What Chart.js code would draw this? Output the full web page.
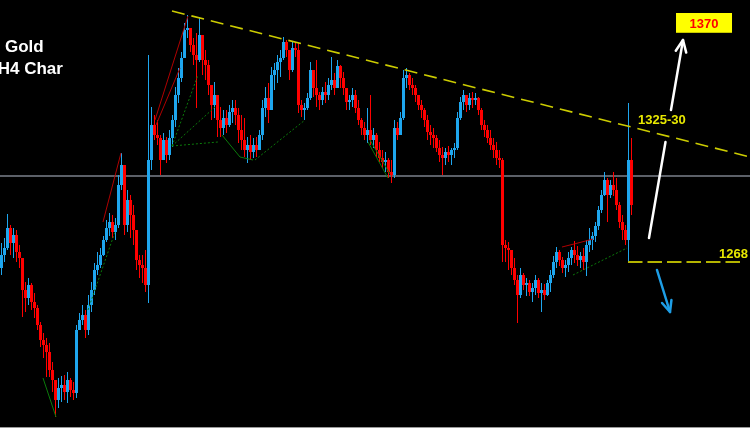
<!DOCTYPE html>
<html><head><meta charset="utf-8">
<script src="https://cdn.jsdelivr.net/npm/chart.js@4.4.1/dist/chart.umd.min.js"></script>
<style>
html,body{margin:0;padding:0;background:#fff;}
#wrap{width:750px;height:427px;background:#000;border-bottom:1px solid #9a9a9a;}
canvas{display:block;}
</style></head><body>
<div id="wrap"><canvas id="c" width="750" height="427"></canvas></div>
<script>
// ---- H4 gold candles (price, USD) ----
const firstOpen = 1265.6;
const highs = [
1275.6,1277.6,1287.2,1282.8,1281.6,1280.8,1274.8,1269.6,1260.0,1261.6,
1259.6,1255.6,1250.8,1244.0,1239.6,1237.6,1235.6,1228.0,1220.8,1221.6,
1222.4,1222.8,1224.0,1221.6,1220.0,1242.8,1247.6,1250.8,1248.8,1254.8,
1260.0,1267.6,1272.0,1273.6,1278.4,1284.8,1287.6,1286.8,1285.6,1302.8,
1311.6,1294.8,1296.8,1294.8,1290.8,1276.8,1270.8,1270.8,1272.8,1350.8,
1330.0,1326.8,1324.8,1318.8,1319.6,1318.0,1320.8,1326.8,1338.0,1345.6,
1352.0,1363.6,1366.8,1361.6,1357.6,1359.6,1366.0,1358.8,1352.8,1348.8,
1338.8,1340.0,1334.8,1330.0,1328.8,1328.8,1330.8,1332.8,1332.8,1329.6,
1326.8,1325.6,1318.0,1318.8,1317.6,1318.0,1320.8,1332.8,1338.0,1339.6,
1346.0,1347.6,1350.8,1352.8,1358.0,1356.8,1350.8,1356.0,1356.0,1355.6,
1332.8,1331.6,1335.6,1348.0,1342.8,1348.8,1336.0,1338.0,1340.0,1341.6,
1350.0,1343.6,1348.8,1346.8,1344.0,1337.6,1334.8,1337.6,1336.8,1332.8,
1325.6,1324.0,1329.6,1334.8,1321.6,1319.6,1316.0,1312.8,1312.0,1309.6,
1308.8,1324.8,1324.0,1328.0,1344.8,1345.6,1343.6,1341.6,1338.8,1334.8,
1332.8,1329.6,1326.8,1322.8,1321.6,1318.8,1316.8,1314.0,1313.6,1314.4,
1313.6,1315.6,1328.0,1334.0,1336.8,1334.8,1335.6,1336.0,1335.6,1334.0,
1329.6,1324.8,1322.8,1320.8,1317.6,1316.0,1312.8,1309.6,1276.8,1276.0,
1272.8,1269.6,1262.8,1265.6,1263.6,1261.6,1260.8,1259.6,1262.8,1261.6,
1259.6,1259.2,1260.8,1264.8,1270.4,1274.0,1272.8,1270.0,1268.8,1272.0,
1274.0,1276.4,1274.4,1272.0,1273.6,1276.8,1281.6,1280.0,1284.0,1290.4,
1296.8,1304.0,1301.6,1300.8,1304.0,1301.6,1292.0,1286.8,1282.8,1331.6,
1317.6];
const lows = [
1262.8,1268.0,1272.8,1270.8,1269.6,1268.0,1265.6,1246.0,1248.0,1250.8,
1248.8,1245.6,1240.8,1234.0,1229.6,1222.0,1222.0,1216.0,1206.0,1209.6,
1212.0,1212.8,1211.6,1214.0,1212.8,1213.6,1240.8,1242.8,1237.6,1238.8,
1248.0,1254.8,1262.8,1265.6,1270.4,1276.0,1278.4,1277.6,1276.8,1281.6,
1296.8,1278.8,1280.0,1277.6,1274.8,1264.8,1261.6,1259.6,1256.0,1251.6,
1304.8,1316.8,1314.8,1302.8,1308.8,1307.6,1308.8,1314.0,1322.0,1331.6,
1340.0,1352.0,1357.6,1352.0,1346.8,1329.6,1348.0,1342.8,1340.8,1334.8,
1324.8,1325.6,1318.0,1318.0,1318.8,1319.6,1322.0,1323.6,1322.8,1315.6,
1312.8,1310.0,1307.6,1308.8,1309.6,1310.0,1312.8,1316.8,1326.0,1323.6,
1328.8,1336.8,1339.6,1342.0,1348.8,1350.0,1340.8,1344.0,1350.0,1327.6,
1326.0,1324.8,1328.8,1332.8,1334.0,1330.0,1328.8,1330.8,1331.6,1332.8,
1336.8,1334.8,1338.8,1337.6,1334.8,1328.8,1328.8,1330.0,1327.6,1322.8,
1318.8,1316.8,1315.6,1314.8,1313.6,1310.0,1308.0,1305.6,1304.0,1301.6,
1299.6,1301.6,1316.8,1320.0,1324.8,1337.6,1336.8,1334.8,1332.0,1328.8,
1325.6,1322.0,1316.8,1314.8,1313.6,1312.0,1308.0,1302.8,1306.8,1308.0,
1306.8,1309.6,1312.8,1324.8,1328.8,1328.0,1328.8,1329.6,1330.8,1326.8,
1320.8,1318.0,1315.6,1312.8,1309.6,1306.8,1305.6,1268.0,1268.0,1264.8,
1262.8,1258.8,1243.6,1253.6,1256.8,1254.4,1254.4,1252.0,1254.8,1253.6,
1248.0,1252.8,1254.4,1256.0,1261.6,1265.6,1266.4,1263.6,1262.0,1264.0,
1266.8,1267.6,1266.4,1265.6,1264.8,1262.4,1272.0,1272.8,1276.0,1280.8,
1287.6,1294.4,1284.0,1293.6,1294.4,1288.8,1281.6,1276.8,1274.8,1268.0,
1286.8];
const closes = [
1270.8,1273.6,1281.6,1275.6,1278.8,1272.0,1269.6,1256.8,1253.6,1258.8,
1252.0,1249.6,1242.8,1236.8,1234.8,1232.0,1224.8,1220.8,1212.8,1217.6,
1218.8,1216.0,1220.8,1216.8,1215.6,1240.8,1244.8,1246.8,1240.8,1250.8,
1256.8,1264.8,1266.8,1270.8,1276.8,1281.6,1284.0,1280.0,1282.8,1298.8,
1306.8,1282.8,1292.8,1286.8,1280.8,1268.8,1266.8,1265.6,1258.8,1308.8,
1322.8,1318.8,1317.6,1308.8,1316.8,1310.8,1317.6,1324.8,1334.8,1341.6,
1349.6,1360.8,1361.6,1354.8,1350.8,1348.8,1358.8,1348.8,1346.8,1338.8,
1330.8,1334.8,1324.8,1321.6,1325.6,1322.8,1328.0,1329.6,1326.8,1320.8,
1316.8,1312.8,1314.8,1312.0,1314.8,1312.8,1318.8,1329.6,1333.6,1328.8,
1342.8,1344.8,1348.0,1349.6,1356.0,1352.8,1344.8,1353.6,1352.8,1330.8,
1328.8,1329.6,1333.6,1344.8,1337.6,1334.8,1332.8,1336.0,1334.8,1338.8,
1340.8,1337.6,1346.4,1341.6,1337.6,1332.0,1332.8,1334.8,1329.6,1324.8,
1321.6,1318.8,1320.8,1316.8,1318.8,1312.8,1309.6,1308.0,1308.8,1304.0,
1302.8,1321.6,1318.8,1325.6,1341.6,1342.8,1338.8,1337.6,1334.8,1330.8,
1328.8,1324.8,1320.0,1318.8,1317.6,1313.6,1310.8,1309.6,1312.0,1310.8,
1312.8,1313.6,1325.6,1332.0,1334.8,1330.8,1333.6,1332.8,1333.6,1328.8,
1322.8,1320.8,1317.6,1314.8,1312.8,1309.6,1308.8,1274.8,1273.6,1272.8,
1265.6,1260.8,1254.8,1262.8,1258.8,1259.6,1256.0,1257.6,1260.8,1255.6,
1256.8,1254.8,1259.6,1262.8,1268.0,1272.0,1268.8,1265.6,1266.8,1269.6,
1272.8,1270.8,1268.8,1270.4,1268.0,1274.8,1276.8,1278.4,1282.4,1288.8,
1294.8,1300.8,1294.8,1298.8,1296.8,1290.8,1284.0,1280.8,1276.8,1308.8,
1290.8];

// ---- drawn levels / annotations (bar index, price) ----
const hLinePrice = 1302.4;
const trendLine = [[56.83, 1368.4], [249.5, 1310.0]];
const supportLine = [[208.83, 1268], [246.17, 1268]];
const redLines = [
  [[33.83,1284.0],[39.83,1311.6]],
  [[51.17,1324.8],[62.17,1366.4]],
  [[51.5,1322.8],[59.5,1345.6]],
  [[186.83,1274.0],[192.17,1275.6],[197.17,1277.2]]
];
const greenDotted = [
  [[28.83,1248.8],[37.83,1280.0]],
  [[56.83,1314.4],[65.5,1342.8]],
  [[56.83,1314.4],[71.17,1330.0]],
  [[56.83,1314.4],[72.17,1316.0]],
  [[84.5,1308.8],[101.17,1324.8]],
  [[190.5,1262.8],[208.5,1273.6]]
];
const greenSolid = [
  [[73.5,1318.8],[79.5,1310.0],[83.83,1308.8]],
  [[122.17,1316.0],[128.83,1301.6]],
  [[122.83,1316.8],[129.5,1303.2]],
  [[13.83,1221.6],[18.17,1206.0]]
];
const upArrow = [[215.83, 1277.6], [227.17, 1356.8]];
const upArrowGap = [1316.0, 1328.8];
const downArrow = [[218.5, 1264.8], [222.83, 1248.0]];
const labels = [
  {text:'1268', x:248.83, y:1271.2, align:'right'},
  {text:'1325-30', x:212.17, y:1324.8, align:'left'}
];
const targetLabel = {text:'1370', x:234.17, y:1363.6};
const titleLines = ['Gold', 'H4 Char'];

// ---- build datasets ----
const opens = closes.map((c, i) => i === 0 ? firstOpen : closes[i-1]);
const UP = '#1ea6ee', DN = '#ff0000';
const cols = closes.map((c, i) => c >= opens[i] ? UP : DN);
const idx = closes.map((c, i) => i);
const pts = arr => arr.map(p => ({x:p[0], y:p[1]}));
const lineDs = (data, color, width, dash, order) => ({
  type:'line', data: pts(data), borderColor: color, borderWidth: width,
  borderDash: dash || [], pointRadius: 0, fill:false, tension:0, order: order
});

const datasets = [
  {type:'bar', grouped:false, barThickness:1, inflateAmount:0, borderWidth:0,
   data: idx.map(i => ({x:i, y:[lows[i], highs[i]]})), backgroundColor: cols, order: 20},
  {type:'bar', grouped:false, barThickness:3, inflateAmount:0, borderWidth:0,
   data: idx.map(i => ({x:i, y:[opens[i], closes[i]]})), backgroundColor: cols, order: 19},
  lineDs([[-0.5, hLinePrice],[249.5, hLinePrice]], '#5c6068', 2, null, 25),
  lineDs(trendLine, '#cccc00', 1.6, [13,7], 5),
  lineDs(supportLine, '#b4b400', 2, [14.5,5], 5)
];
redLines.forEach(l => datasets.push(lineDs(l, '#b00000', 1, null, 10)));
greenDotted.forEach(l => datasets.push(lineDs(l, '#0b7a0b', 1, [2,2], 10)));
greenSolid.forEach(l => datasets.push(lineDs(l, '#0b7a0b', 1, null, 10)));

function head(ctx, a, b, len, ang) {
  const t = Math.atan2(b[1]-a[1], b[0]-a[0]);
  ctx.beginPath();
  ctx.moveTo(b[0] - len*Math.cos(t-ang), b[1] - len*Math.sin(t-ang));
  ctx.lineTo(b[0], b[1]);
  ctx.lineTo(b[0] - len*Math.cos(t+ang), b[1] - len*Math.sin(t+ang));
  ctx.stroke();
}

const annot = {
  id:'annot',
  afterDatasetsDraw(chart) {
    const {ctx} = chart; const xs = chart.scales.x, ys = chart.scales.y;
    const P = p => [xs.getPixelForValue(p[0]), ys.getPixelForValue(p[1])];
    ctx.save();
    ctx.lineCap = 'round'; ctx.lineJoin = 'round';
    const a0 = P(upArrow[0]), a1 = P(upArrow[1]);
    const xAt = py => a0[0] + (a1[0]-a0[0])*(py-a0[1])/(a1[1]-a0[1]);
    const g0 = ys.getPixelForValue(upArrowGap[0]), g1 = ys.getPixelForValue(upArrowGap[1]);
    ctx.strokeStyle = '#ffffff'; ctx.lineWidth = 2.5;
    ctx.beginPath(); ctx.moveTo(a0[0], a0[1]); ctx.lineTo(xAt(g0), g0);
    ctx.moveTo(xAt(g1), g1); ctx.lineTo(a1[0], a1[1]); ctx.stroke();
    head(ctx, a0, a1, 13, 0.42);
    const b0 = P(downArrow[0]), b1 = P(downArrow[1]);
    ctx.strokeStyle = '#1e9ee6'; ctx.lineWidth = 2.5;
    ctx.beginPath(); ctx.moveTo(b0[0], b0[1]); ctx.lineTo(b1[0], b1[1]); ctx.stroke();
    head(ctx, b0, b1, 12, 0.42);
    ctx.font = 'bold 13px "Liberation Sans", Arial, sans-serif';
    ctx.textBaseline = 'middle'; ctx.fillStyle = '#e8e800';
    labels.forEach(l => { const p = P([l.x, l.y]); ctx.textAlign = l.align; ctx.fillText(l.text, p[0], p[1]); });
    const t = P([targetLabel.x, targetLabel.y]);
    ctx.fillStyle = '#ffff00'; ctx.fillRect(t[0]-28, t[1]-10, 56, 20);
    ctx.fillStyle = '#c8c800'; ctx.fillRect(t[0]-28, t[1]+9, 56, 1);
    ctx.fillStyle = '#ff0000'; ctx.textAlign = 'center';
    ctx.fillText(targetLabel.text, t[0], t[1]+1);
    ctx.fillStyle = '#ffffff'; ctx.textAlign = 'left'; ctx.textBaseline = 'alphabetic';
    ctx.font = 'bold 17px "Liberation Sans", Arial, sans-serif';
    ctx.fillText(titleLines[0], 5, 52);
    ctx.fillText(titleLines[1], -2.3, 74);
    ctx.restore();
  }
};

new Chart(document.getElementById('c'), {
  type:'bar',
  data:{ datasets },
  options:{
    responsive:false, animation:false, devicePixelRatio:1,
    layout:{padding:0},
    plugins:{legend:{display:false}, tooltip:{enabled:false}},
    scales:{
      x:{type:'linear', display:false, offset:false, min:-0.5, max:249.5},
      y:{type:'linear', display:false, min:1202.0, max:1372.8}
    }
  },
  plugins:[annot]
});
</script>
</body></html>
